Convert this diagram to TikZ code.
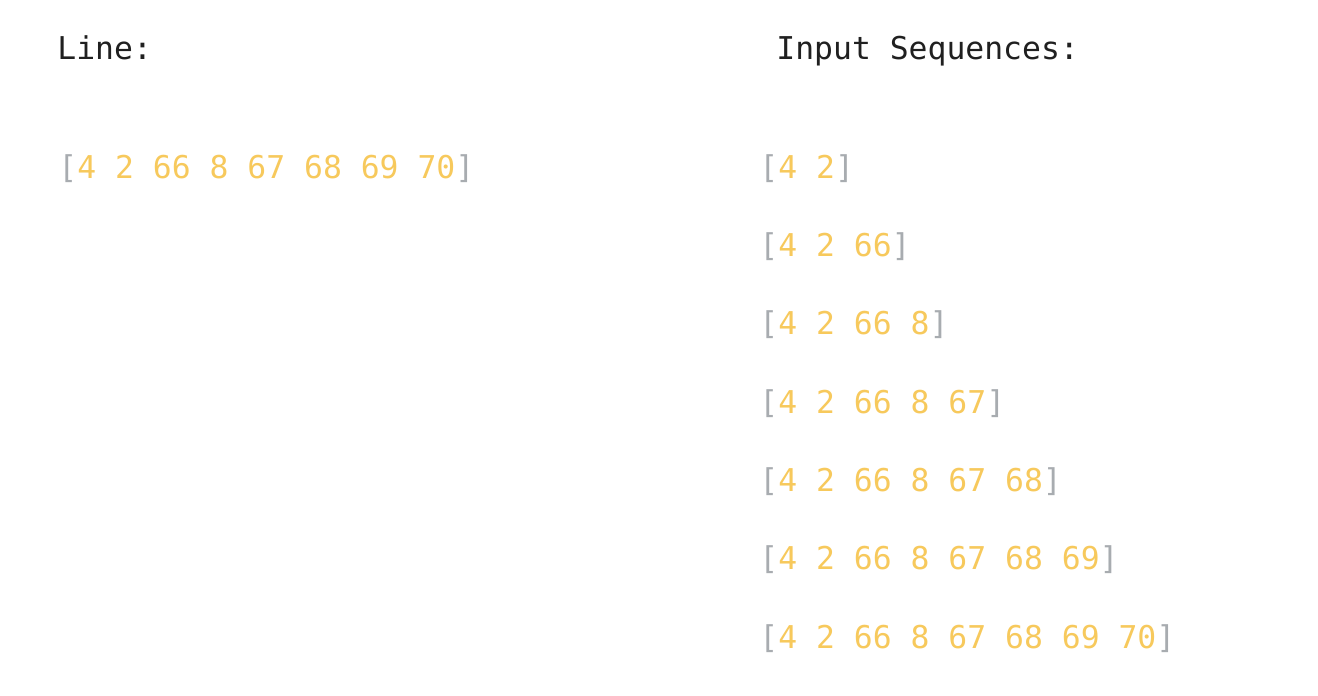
\documentclass[tikz,border=0pt]{standalone}
\usepackage{fontspec}
\setmonofont{DejaVu Sans Mono}
\definecolor{numc}{HTML}{F7C95C}
\definecolor{brkc}{HTML}{A8ACB0}
\definecolor{titc}{HTML}{202020}
\newcommand{\seqtxt}[1]{{\color{brkc}[}{\color{numc}#1}{\color{brkc}]}}
\begin{document}
\begin{tikzpicture}[x=0.5pt,y=-0.5pt,
  txt/.style={anchor=base west,inner sep=0pt,font=\fontsize{15.7pt}{18pt}\ttfamily},
  title/.style={txt,text=titc}]
\useasboundingbox[fill=white] (0,0) rectangle (1318,696);
\node[title] (tl) at (57,60) {Line:};
\node[title] (tr) at (776,60) {Input Sequences:};
\node[txt] (l1) at (58,178) {\seqtxt{4 2 66 8 67 68 69 70}};
\node[txt] (r1) at (759,178) {\seqtxt{4 2}};
\node[txt] (r2) at (759,256.3) {\seqtxt{4 2 66}};
\node[txt] (r3) at (759,334.7) {\seqtxt{4 2 66 8}};
\node[txt] (r4) at (759,413) {\seqtxt{4 2 66 8 67}};
\node[txt] (r5) at (759,491.3) {\seqtxt{4 2 66 8 67 68}};
\node[txt] (r6) at (759,569.7) {\seqtxt{4 2 66 8 67 68 69}};
\node[txt] (r7) at (759,648) {\seqtxt{4 2 66 8 67 68 69 70}};
\end{tikzpicture}
\end{document}
